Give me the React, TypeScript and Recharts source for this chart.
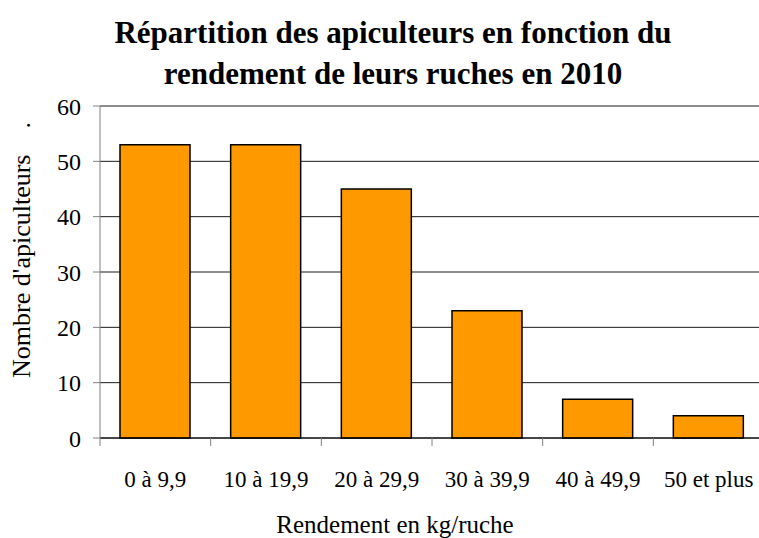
import React from 'react'
import { BarChart, Bar, XAxis, YAxis, CartesianGrid } from 'recharts'

const categories = ['0 à 9,9', '10 à 19,9', '20 à 29,9', '30 à 39,9', '40 à 49,9', '50 et plus']
const apiculteurs = [53, 53, 45, 23, 7, 4]
const yTicks = [0, 10, 20, 30, 40, 50, 60]

const data = categories.map((name, i) => ({ name, value: apiculteurs[i] }))

const FONT = '"Liberation Serif", "Times New Roman", serif'

// category label in the middle, tick mark on the left edge of the band
function CategoryTick(props: any) {
  const { x, y, payload } = props
  const half = payload.offset || 0
  return (
    <g>
      <line x1={x - half} y1={y - 8} x2={x - half} y2={y} stroke="#808080" />
      <text x={x} y={y + 41} textAnchor="middle" fontSize={23} fontFamily={FONT} fill="#000">
        {payload.value}
      </text>
    </g>
  )
}

export default function App() {
  return (
    <div style={{ position: 'absolute', left: 0, top: 0, width: 759, height: 538, overflow: 'hidden', background: '#fff', fontFamily: FONT }}>
      <div style={{ position: 'absolute', left: 0, top: 12, width: 786, textAlign: 'center', fontWeight: 'bold', fontSize: 31, lineHeight: '41px', color: '#000' }}>
        Répartition des apiculteurs en fonction du
        <br />
        rendement de leurs ruches en 2010
      </div>
      <div style={{ position: 'absolute', left: 0, top: 510, width: 790, textAlign: 'center', fontSize: 25, lineHeight: '30px', color: '#000' }}>
        Rendement en kg/ruche
      </div>
      <div style={{ position: 'absolute', left: 22, top: 250, width: 0, height: 0 }}>
        <div style={{ position: 'absolute', transform: 'translate(-50%, -50%) rotate(-90deg)', whiteSpace: 'nowrap', fontSize: 26, lineHeight: '30px', color: '#000' }}>
          Nombre d'apiculteurs&nbsp;&nbsp;&nbsp;&nbsp;.
        </div>
      </div>
      <BarChart
        width={770}
        height={538}
        data={data}
        margin={{ top: 106, right: 6, bottom: 0, left: 0 }}
        barSize={70}
        style={{ position: 'absolute', left: 0, top: 0 }}
      >
        <CartesianGrid vertical={false} stroke="#000" strokeOpacity={0.9} />
        <XAxis
          dataKey="name"
          height={100}
          axisLine={{ stroke: '#000' }}
          tickLine={false}
          tick={<CategoryTick />}
          interval={0}
        />
        <YAxis
          width={100}
          domain={[0, 60]}
          ticks={yTicks}
          interval={0}
          axisLine={{ stroke: '#808080' }}
          tickLine={{ stroke: '#808080' }}
          tickSize={7}
          tick={{ fontSize: 24, fontFamily: FONT, fill: '#000' }}
          tickMargin={12}
        />
        <Bar dataKey="value" fill="#ff9900" stroke="#000" strokeWidth={1.5} isAnimationActive={false} />
      </BarChart>
    </div>
  )
}
